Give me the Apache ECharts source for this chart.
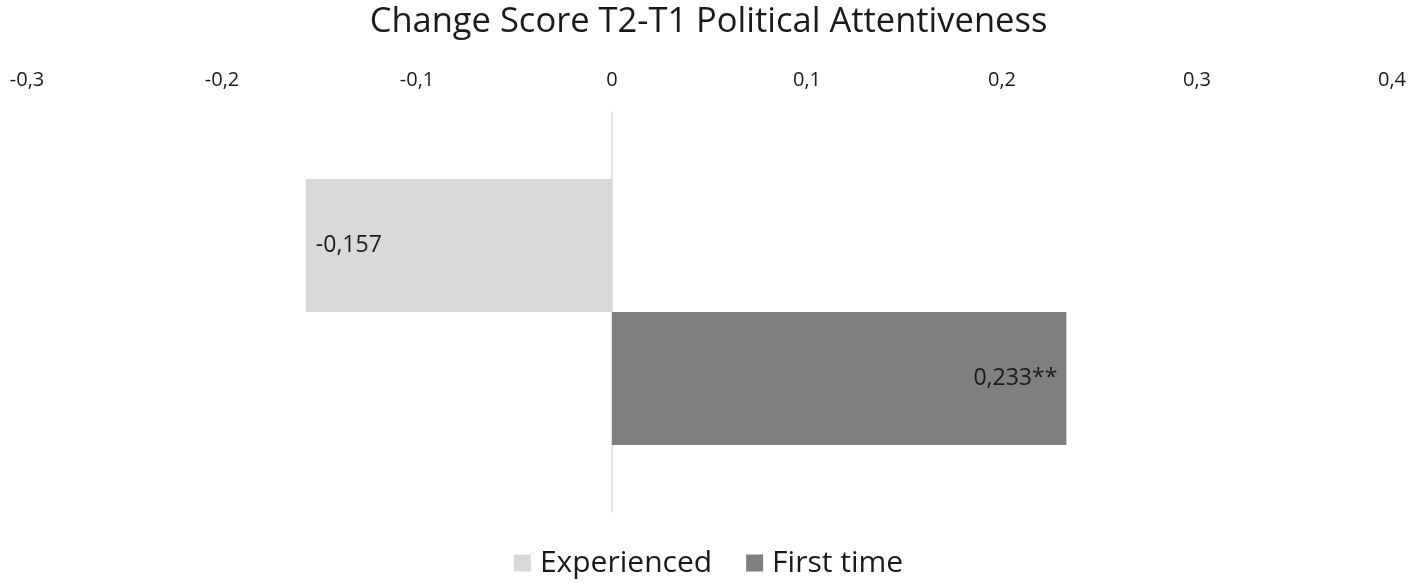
<!DOCTYPE html>
<html>
<head>
<meta charset="utf-8">
<script src="https://cdn.jsdelivr.net/npm/echarts@6/dist/echarts.min.js"></script>
<style>
  html, body { margin: 0; padding: 0; background: #fff; }
  #chart { width: 1417px; height: 588px; }
</style>
</head>
<body>
<div id="chart"></div>
<script>
// data
const categories = ['Change Score']
const seriesNames = ['Experienced', 'First time']
const experienced = [-0.157]
const firstTime = [0.233]
const barLabels = ['-0,157', '0,233**']
const tickMin = -0.3
const tickMax = 0.4

const fontFamily = '"Open Sans", "Noto Sans", sans-serif'
const chart = echarts.init(document.getElementById('chart'))

const option = {
  backgroundColor: '#fff',
  title: {
    text: 'Change Score T2-T1 Political Attentiveness',
    left: 'center',
    top: 0,
    textStyle: { fontFamily, fontSize: 34.5, fontWeight: 'normal', color: '#1a1a1a' }
  },
  legend: {
    bottom: 5,
    left: 'center',
    itemWidth: 17,
    itemHeight: 17,
    itemGap: 34,
    icon: 'rect',
    textStyle: { fontFamily, fontSize: 30, color: '#1a1a1a', padding: [0, 0, 0, 4] },
    data: seriesNames
  },
  grid: { left: 27, right: 25, top: 112, bottom: 76 },
  xAxis: {
    type: 'value',
    position: 'top',
    min: tickMin,
    max: tickMax,
    interval: 0.1,
    axisLine: { show: false },
    axisTick: { show: false },
    splitLine: { show: false },
    axisLabel: {
      margin: 22,
      fontFamily,
      fontSize: 20,
      color: '#1a1a1a',
      // comma decimals, as in the source
      formatter: v => (Math.round(v * 10) / 10).toString().replace('.', ',')
    }
  },
  yAxis: {
    type: 'category',
    inverse: true,
    data: categories,
    axisLine: { show: true, onZero: true, lineStyle: { color: '#d9dee6', width: 1.5 } },
    axisTick: { show: false },
    axisLabel: { show: false }
  },
  series: [
    {
      name: seriesNames[0],
      type: 'bar',
      data: experienced,
      barGap: '0%',
      barCategoryGap: '33.5%',
      itemStyle: { color: '#d9d9d9' },
      label: {
        show: true,
        position: 'insideLeft',
        distance: 10,
        fontFamily,
        fontSize: 23,
        color: '#1a1a1a',
        formatter: () => barLabels[0]
      }
    },
    {
      name: seriesNames[1],
      type: 'bar',
      data: firstTime,
      barGap: '0%',
      barCategoryGap: '33.5%',
      itemStyle: { color: '#7f7f7f' },
      label: {
        show: true,
        position: 'insideRight',
        distance: 9,
        fontFamily,
        fontSize: 23,
        color: '#1a1a1a',
        formatter: () => barLabels[1]
      }
    }
  ]
}

chart.setOption(option)
</script>
</body>
</html>
